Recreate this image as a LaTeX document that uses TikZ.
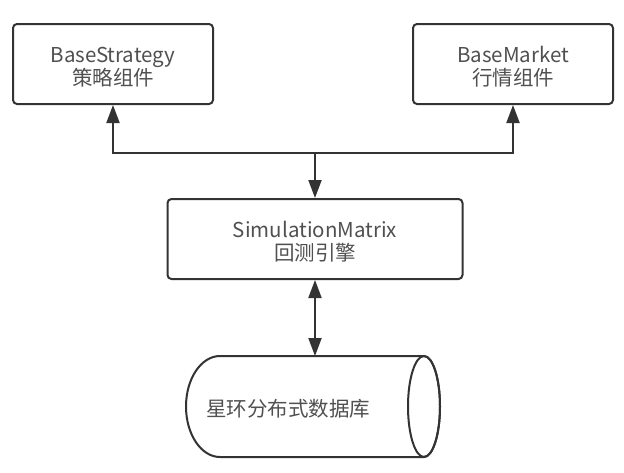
\documentclass[tikz,border=0pt]{standalone}
\usepackage{fontspec}
\setmainfont{Noto Sans CJK SC}
\usetikzlibrary{arrows.meta}
\definecolor{linec}{HTML}{333333}
\definecolor{textc}{HTML}{505050}
\tikzset{
  box/.style={draw=linec, line width=2pt, rounded corners=4pt, fill=white,
    minimum height=80pt, inner sep=0pt},
  lbl/.style={text=textc, align=center, font=\fontsize{20.5}{23}\selectfont, inner sep=0pt},
  tip/.tip={Triangle[length=18pt,width=13pt]},
  arr/.style={draw=linec, line width=2pt, -tip},
  darr/.style={draw=linec, line width=2pt, tip-tip},
}
\begin{document}
\begin{tikzpicture}[x=1pt,y=-1pt]
\useasboundingbox (0,0) rectangle (624,472);
\fill[white] (0,0) rectangle (624,472);
\node[box, minimum width=200pt] (strat) at (113,64) {};
\node[lbl] (stratT) at ([yshift=-3pt]strat.center) {BaseStrategy\\策略组件};
\node[box, minimum width=200pt] (market) at (513,64) {};
\node[lbl] (marketT) at ([yshift=-3pt]market.center) {BaseMarket\\行情组件};
\node[box, minimum width=295pt] (sim) at (315,239) {};
\node[lbl] (simT) at ([yshift=-3pt]sim.center) {SimulationMatrix\\回测引擎};
% cylinder
\draw[linec, line width=2pt, fill=white] (220,356) -- (424,356)
  arc[start angle=90, end angle=-90, x radius=16pt, y radius=50.5pt]
  -- (220,457)
  arc[start angle=-90, end angle=-270, x radius=34pt, y radius=50.5pt] -- cycle;
\draw[linec, line width=2pt] (424,406.5) ellipse[x radius=16pt, y radius=50.5pt];
\node[lbl] (db) at (288,409) {星环分布式数据库};
\coordinate (dbtop) at (315,356);
\coordinate (junc) at (315,153);
\draw[arr] (junc) -| (strat.south);
\draw[arr] (junc) -| (market.south);
\draw[arr] (junc) -- (sim.north);
\draw[darr] (sim.south) -- (dbtop);
\end{tikzpicture}
\end{document}
